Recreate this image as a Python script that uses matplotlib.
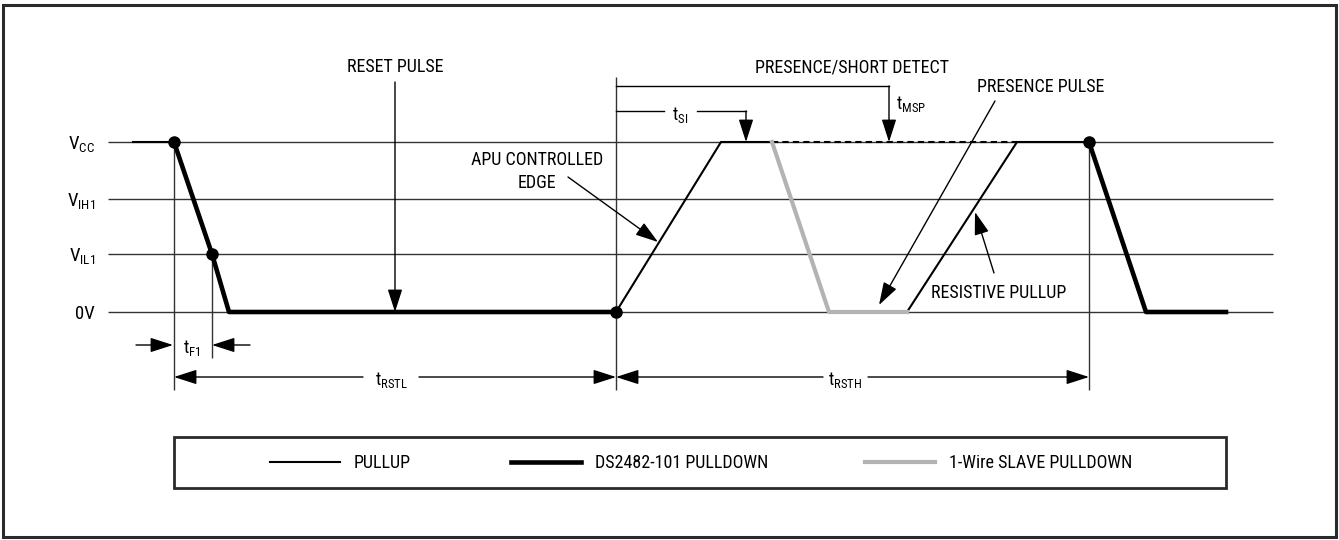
import matplotlib
matplotlib.use('Agg')
import matplotlib.pyplot as plt
from matplotlib.patches import Rectangle

plt.rcParams['font.family'] = ['Roboto Condensed', 'Archivo Narrow', 'Liberation Sans Narrow',
                               'Liberation Sans', 'DejaVu Sans']
plt.rcParams['mathtext.default'] = 'regular'
plt.rcParams['font.size'] = 13

# voltage levels (sheet y position) and their labels
level_names = ['VCC', 'VIH1', 'VIL1', '0V']
level_labels = [r'$V_{CC}$', r'$V_{IH1}$', r'$V_{IL1}$', '0V']
level_y = [142, 199, 254, 312]
V = dict(zip(level_names, level_y))

# waveform breakpoints: time (sheet x) and level
pullup_segs = [
    ([133, 174], ['VCC', 'VCC']),
    ([616, 721, 772], ['0V', 'VCC', 'VCC']),
    ([907, 1017, 1089], ['0V', 'VCC', 'VCC']),
]
pullup_dash_t = [772, 1017]
pullup_dash_v = ['VCC', 'VCC']
master_segs = [
    ([174, 212, 229, 616], ['VCC', 'VIL1', '0V', '0V']),
    ([1089, 1146, 1226], ['VCC', '0V', '0V']),
]
slave_t = [772, 829, 907]
slave_v = ['VCC', '0V', '0V']
dot_t = [174, 212, 616, 1089]
dot_v = ['VCC', 'VIL1', '0V', 'VCC']

legend_labels = ['PULLUP', 'DS2482-101 PULLDOWN', '1-Wire SLAVE PULLDOWN']
legend_x = [270, 511, 865]

thin_c = '#333333'
gray_c = '#b3b3b3'

fig = plt.figure(figsize=(13.39, 5.40), dpi=100)
ax = fig.add_axes([0, 0, 1, 1])
ax.set_xlim(0, 1339)
ax.set_ylim(540, 0)
ax.axis('off')

# outer frame
ax.add_patch(Rectangle((3, 5), 1333, 532, fill=False, lw=2.2, ec='#2a2a2a'))

# level lines + labels
ax.hlines(level_y, 108, 1273, color=thin_c, lw=1.0, zorder=1)
for lab, y in zip(level_labels, level_y):
    ax.text(95, y + 2, lab, ha='right', va='center', fontsize=13.5)

# vertical reference lines
ax.vlines(174, V['VCC'], 390, color=thin_c, lw=1.0)
ax.vlines(212, V['VIL1'], 358, color=thin_c, lw=1.0)
ax.vlines(616, 77, 390, color=thin_c, lw=1.0)
ax.vlines(1089, V['VCC'], 390, color=thin_c, lw=1.0)

# waveforms
for t, v in pullup_segs:
    ax.plot(t, [V[k] for k in v], color='black', lw=1.5, zorder=3, solid_joinstyle='miter')
ax.plot(pullup_dash_t, [V[k] for k in pullup_dash_v], color='black', lw=1.5,
        ls=(0, (3, 2)), zorder=3)
ax.plot(slave_t, [V[k] for k in slave_v], color=gray_c, lw=3.0, zorder=3)
for t, v in master_segs:
    ax.plot(t, [V[k] for k in v], color='black', lw=3.3, zorder=3)
ax.plot(dot_t, [V[k] for k in dot_v], 'o', color='black', ms=8, zorder=4)


def arrow(x0, y0, x1, y1):
    ax.annotate('', xy=(x1, y1), xytext=(x0, y0),
                arrowprops=dict(arrowstyle='-|>,head_length=14,head_width=4.5',
                                mutation_scale=1, lw=1.0, color='black',
                                shrinkA=0, shrinkB=0))


# RESET PULSE
ax.text(395, 67, 'RESET PULSE', ha='center', va='center')
arrow(395, 82, 395, V['0V'])

# APU controlled edge
ax.text(537, 160, 'APU CONTROLLED', ha='center', va='center')
ax.text(537, 183, 'EDGE', ha='center', va='center')
arrow(568, 177, 658, 242)

# presence/short detect, tMSP
ax.text(852, 67, 'PRESENCE/SHORT DETECT', ha='center', va='center')
ax.plot([616, 889], [86, 86], color='black', lw=1.0)
arrow(889, 86, 889, V['VCC'])
ax.text(896, 104, r'$t_{MSP}$', ha='left', va='center')

# tSI
ax.plot([616, 664], [111, 111], color='black', lw=1.0)
ax.plot([697, 746], [111, 111], color='black', lw=1.0)
arrow(746, 111, 746, V['VCC'])
ax.text(680, 115, r'$t_{SI}$', ha='center', va='center')

# presence pulse
ax.text(1041, 87, 'PRESENCE PULSE', ha='center', va='center')
arrow(995, 101, 879, 305)

# resistive pullup
ax.text(999, 293, 'RESISTIVE PULLUP', ha='center', va='center')
arrow(994, 273, 975, 212)

# tF1
arrow(136, 345, 173, 345)
arrow(250, 345, 212, 345)
ax.text(192, 348, r'$t_{F1}$', ha='center', va='center')

# tRSTL / tRSTH
arrow(363, 377, 174, 377)
arrow(419, 377, 616, 377)
ax.text(391, 380, r'$t_{RSTL}$', ha='center', va='center')
arrow(823, 377, 616, 377)
arrow(868, 377, 1089, 377)
ax.text(845, 380, r'$t_{RSTH}$', ha='center', va='center')

# legend box
ax.add_patch(Rectangle((174, 437), 1052, 51, fill=False, lw=2.0, ec='#2a2a2a'))
legend_styles = [dict(color='black', lw=1.5), dict(color='black', lw=3.3),
                 dict(color=gray_c, lw=3.0)]
for x, lab, st in zip(legend_x, legend_labels, legend_styles):
    ax.plot([x, x + 70], [462, 462], **st)
    ax.text(x + 84, 463, lab, ha='left', va='center')

fig.savefig('out.png', dpi=100)
